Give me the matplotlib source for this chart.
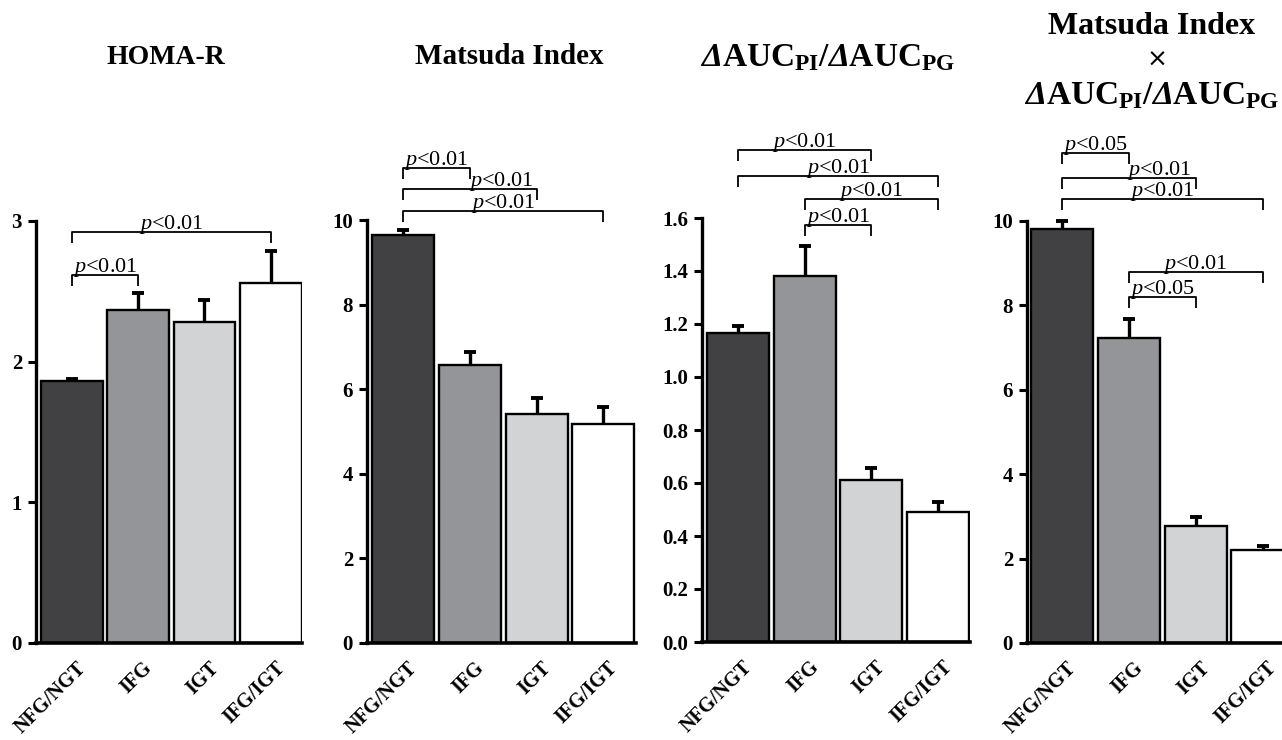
import numpy as np
import matplotlib
matplotlib.use("Agg")
import matplotlib.pyplot as plt
from matplotlib.ticker import FormatStrFormatter
import matplotlib.transforms as mtransforms

groups = ["NFG/NGT", "IFG", "IGT", "IFG/IGT"]
bar_colors = ["#414143", "#939598", "#d1d3d4", "#ffffff"]

homa_mean = [1.86, 2.37, 2.28, 2.56]
homa_sem = [0.02, 0.12, 0.16, 0.23]

matsuda_mean = [9.65, 6.57, 5.41, 5.18]
matsuda_sem = [0.11, 0.30, 0.38, 0.40]

auc_mean = [1.166, 1.38, 0.61, 0.49]
auc_sem = [0.025, 0.114, 0.045, 0.04]

product_mean = [9.80, 7.22, 2.77, 2.20]
product_sem = [0.20, 0.46, 0.22, 0.09]

# (group a, group b, bracket height, label, label x)
homa_brackets = [(0, 1, 2.615, "0.01", 0.5), (0, 3, 2.92, "0.01", 1.5)]
matsuda_brackets = [(0, 1, 11.23, "0.01", 0.5), (0, 2, 10.73, "0.01", 1.47),
                    (0, 3, 10.21, "0.01", 1.5)]
auc_brackets = [(0, 2, 1.857, "0.01", 1.0), (0, 3, 1.758, "0.01", 1.5),
                (1, 3, 1.672, "0.01", 2.0), (1, 2, 1.574, "0.01", 1.5)]
product_brackets = [(0, 1, 11.61, "0.05", 0.5), (0, 2, 11.02, "0.01", 1.46),
                    (0, 3, 10.52, "0.01", 1.5), (1, 3, 8.79, "0.01", 2.0),
                    (1, 2, 8.20, "0.05", 1.5)]

plt.rcParams["font.family"] = "Liberation Serif"
plt.rcParams["mathtext.fontset"] = "custom"
plt.rcParams["mathtext.rm"] = "Liberation Serif"
plt.rcParams["mathtext.it"] = "Liberation Serif:italic"
plt.rcParams["mathtext.bf"] = "Liberation Serif:bold"
plt.rcParams["mathtext.bfit"] = "Liberation Serif:italic:bold"

W, H = 1282, 740
fig = plt.figure(figsize=(W / 100, H / 100), dpi=100)


def px_rect(left, top, right, bottom):
    return [left / W, 1 - bottom / H, (right - left) / W, (bottom - top) / H]


def draw_panel(rect, means, sems, brackets, ymax, yticks, xlim, fmt=None):
    ax = fig.add_axes(rect)
    x = np.arange(len(groups))
    ax.bar(x, means, width=0.93, color=bar_colors, edgecolor="black", linewidth=1.7, zorder=2)
    eb = ax.errorbar(x, means, yerr=[np.zeros(len(sems)), sems], fmt="none", ecolor="black",
                     elinewidth=2.4, capsize=4.5, capthick=2.8, zorder=3, clip_on=False)
    eb[1][0].set_visible(False)
    ax.set_xlim(*xlim)
    ax.set_ylim(0, ymax)
    ax.set_yticks(yticks)
    if fmt:
        ax.yaxis.set_major_formatter(FormatStrFormatter(fmt))
    ax.set_xticks([])
    # rotated group labels, drawn by hand so they can be nudged
    shift = mtransforms.ScaledTranslation(4 / 100, -15 / 100, fig.dpi_scale_trans)
    trans = mtransforms.blended_transform_factory(ax.transData, ax.transAxes) + shift
    for i, g in enumerate(groups):
        ax.text(i, 0, g, transform=trans, rotation=45, ha="right", va="top",
                rotation_mode="anchor", fontsize=14.5, fontweight="bold")
    for lab in ax.get_yticklabels():
        lab.set_fontweight("bold")
        lab.set_fontsize(15)
    ax.tick_params(axis="y", length=6, width=2.2, direction="out", pad=4)
    for s in ["top", "right"]:
        ax.spines[s].set_visible(False)
    ax.spines["left"].set_linewidth(2.4)
    ax.spines["bottom"].set_linewidth(2.6)
    ax.spines["left"].set_zorder(4)
    ax.spines["bottom"].set_zorder(4)

    drop = 0.026 * ymax
    for a, b, y, p, tx in brackets:
        ax.plot([a, a, b, b], [y - drop, y, y, y - drop], color="black", lw=1.3,
                clip_on=False, solid_capstyle="butt")
        ax.annotate(r"$p$<" + p, (tx, y), xytext=(0, 2), textcoords="offset points",
                    ha="center", va="baseline", fontsize=16, annotation_clip=False)
    return ax


draw_panel(px_rect(36, 221, 302, 643), homa_mean, homa_sem, homa_brackets,
           3, [0, 1, 2, 3], (-0.54, 3.47))
draw_panel(px_rect(367, 220, 636, 643), matsuda_mean, matsuda_sem, matsuda_brackets,
           10, [0, 2, 4, 6, 8, 10], (-0.54, 3.49))
draw_panel(px_rect(702, 218, 970, 642), auc_mean, auc_sem, auc_brackets,
           1.6, np.arange(0, 1.61, 0.2), (-0.54, 3.48), fmt="%.1f")
draw_panel(px_rect(1027, 221, 1296, 643), product_mean, product_sem, product_brackets,
           10, [0, 2, 4, 6, 8, 10], (-0.52, 3.5))

auc_title = (r"$\mathbfit{\Delta}\mathbf{AUC}_{\mathbf{PI}}\mathbf{/}"
             r"\mathbfit{\Delta}\mathbf{AUC}_{\mathbf{PG}}$")
title_kw = dict(ha="center", va="center", fontweight="bold")
fig.text(166 / W, 1 - 57 / H, "HOMA-R", fontsize=20, **title_kw)
fig.text(509 / W, 1 - 57 / H, "Matsuda Index", fontsize=21, **title_kw)
fig.text(828 / W, 1 - 58 / H, auc_title, fontsize=24, **title_kw)
fig.text(1152 / W, 1 - 26 / H, "Matsuda Index", fontsize=23, **title_kw)
fig.text(1157 / W, 1 - 60 / H, "×", ha="center", va="center", fontsize=18,
         family="DejaVu Sans")
fig.text(1152 / W, 1 - 96 / H, auc_title, fontsize=24, **title_kw)

fig.savefig("out.png", dpi=100)
